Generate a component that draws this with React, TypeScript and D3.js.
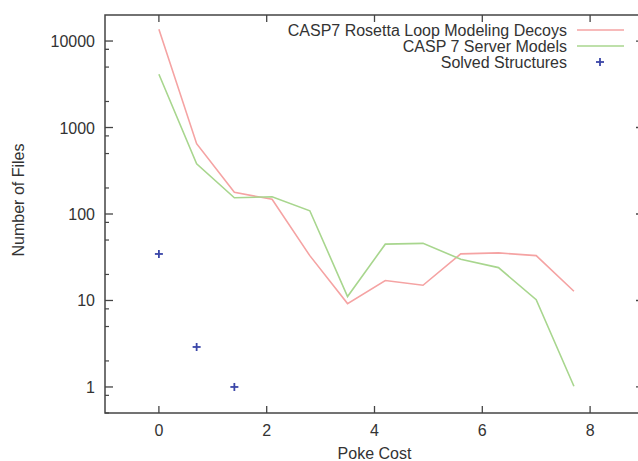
import React from "react";
import * as d3 from "d3";

const pokeCost = [0, 0.7, 1.4, 2.1, 2.8, 3.5, 4.2, 4.9, 5.6, 6.3, 7.0, 7.7];
const rosettaDecoys = [13650, 650, 178, 148, 33, 9.2, 17, 15, 34.6, 35.5, 33, 12.8];
const serverModels = [4130, 381, 154, 158, 109, 11.1, 44.8, 45.8, 30, 24, 10.2, 1.02];
const solvedX = [0, 0.7, 1.4];
const solvedY = [34.5, 2.9, 1];
const xTicks = [0, 2, 4, 6, 8];
const yTicks = [1, 10, 100, 1000, 10000];
const legendLabels = ["CASP7 Rosetta Loop Modeling Decoys", "CASP 7 Server Models", "Solved Structures"];

const W = 638, H = 461;
const L = 105, T = 15, R = 644, B = 413;
const FONT = "'Liberation Sans', Arial, Helvetica, sans-serif";
const RED = "#f5a3a3";
const GREEN = "#a8d68e";
const BLUE = "#3a46a8";
const AXIS = "#444";
const TEXT = "#333";

export default function App() {
  const x = d3.scaleLinear().domain([-1, 9]).range([L, R]);
  const y = d3.scaleLog().domain([0.5, 20000]).range([B, T]);
  const line = d3.line<[number, number]>().x(d => x(d[0])).y(d => y(d[1]));
  const redPts = pokeCost.map((c, i) => [c, rosettaDecoys[i]] as [number, number]);
  const greenPts = pokeCost.map((c, i) => [c, serverModels[i]] as [number, number]);
  const minor: number[] = [];
  yTicks.forEach(t => [0.8, 0.5, 0.2].forEach(f => { const v = t * f; if (v >= 0.5) minor.push(v); }));
  minor.push(8000 * 2 > 20000 ? 8000 : 8000);

  return (
    <svg width={W} height={H} style={{ position: "absolute", left: 0, top: 0, background: "#fff" }} fontFamily={FONT}>
      <rect x={0} y={0} width={W} height={H} fill="#fff" />
      {/* data */}
      <path d={line(redPts) || ""} fill="none" stroke={RED} strokeWidth={1.6} />
      <path d={line(greenPts) || ""} fill="none" stroke={GREEN} strokeWidth={1.6} />
      {solvedX.map((sx, i) => (
        <g key={i} transform={`translate(${x(sx)},${y(solvedY[i])})`} stroke={BLUE} strokeWidth={1.8}>
          <line x1={-4} x2={4} y1={0} y2={0} />
          <line x1={0} x2={0} y1={-4} y2={4} />
        </g>
      ))}
      {/* frame */}
      <rect x={L} y={T} width={R - L} height={B - T} fill="none" stroke={AXIS} strokeWidth={1.5} />
      {/* x ticks */}
      {xTicks.map(t => (
        <g key={t}>
          <line x1={x(t)} x2={x(t)} y1={B} y2={B - 7} stroke={AXIS} strokeWidth={1.3} />
          <line x1={x(t)} x2={x(t)} y1={T} y2={T + 7} stroke={AXIS} strokeWidth={1.3} />
          <text x={x(t)} y={436} textAnchor="middle" fontSize={16} fill={TEXT}>{t}</text>
        </g>
      ))}
      {/* y ticks */}
      {yTicks.map(t => (
        <g key={t}>
          <line x1={L} x2={L + 8} y1={y(t)} y2={y(t)} stroke={AXIS} strokeWidth={1.3} />
          <line x1={R} x2={R - 8} y1={y(t)} y2={y(t)} stroke={AXIS} strokeWidth={1.3} />
          <text x={95} y={y(t) + 6} textAnchor="end" fontSize={16} fill={TEXT}>{t}</text>
        </g>
      ))}
      {minor.map((t, i) => (
        <g key={"m" + i}>
          <line x1={L} x2={L + 4} y1={y(t)} y2={y(t)} stroke={AXIS} strokeWidth={1.2} />
          <line x1={R} x2={R - 4} y1={y(t)} y2={y(t)} stroke={AXIS} strokeWidth={1.2} />
        </g>
      ))}
      {/* axis labels */}
      <text x={x(4)} y={459} textAnchor="middle" fontSize={16} fill={TEXT}>Poke Cost</text>
      <text transform={`translate(24,200) rotate(-90)`} textAnchor="middle" fontSize={16} fill={TEXT}>Number of Files</text>
      {/* legend */}
      {legendLabels.map((lab, i) => {
        const ly = 30 + i * 16;
        return (
          <g key={lab}>
            <text x={567} y={ly + 6} textAnchor="end" fontSize={16} fill={TEXT}>{lab}</text>
            {i < 2 ? (
              <line x1={577} x2={624} y1={ly} y2={ly} stroke={i === 0 ? RED : GREEN} strokeWidth={1.6} />
            ) : (
              <g transform={`translate(600,${ly})`} stroke={BLUE} strokeWidth={1.8}>
                <line x1={-4} x2={4} y1={0} y2={0} />
                <line x1={0} x2={0} y1={-4} y2={4} />
              </g>
            )}
          </g>
        );
      })}
    </svg>
  );
}
